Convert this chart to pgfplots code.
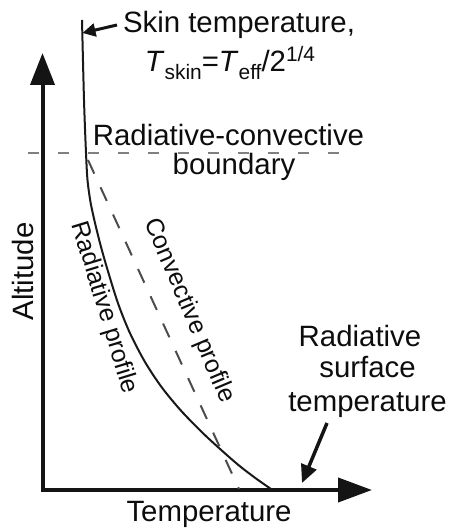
\documentclass[border=0pt]{standalone}
\usepackage{pgfplots}
\pgfplotsset{compat=1.18}
\usepackage{fontspec}
\setmainfont{Liberation Sans}
\usetikzlibrary{arrows.meta}
\newcommand{\fbig}{\fontsize{29.5}{30}\selectfont}
\newcommand{\fmid}{\fontsize{25}{26}\selectfont}
\newcommand{\fsm}{\fontsize{21}{21}\selectfont}
\begin{document}
\begin{tikzpicture}
\begin{axis}[x=1bp,y=1bp,xmin=0,xmax=453,ymin=0,ymax=532,hide axis,clip=false,scale only axis]
\path (axis cs:0,0) rectangle (axis cs:453,532);
% axes with arrows
\draw[line width=4bp, black!92, line join=miter,
  {Triangle[length=32bp,width=24bp]}-{Triangle[length=34bp,width=24bp]}]
  (axis cs:42.5,479) -- (axis cs:42.5,42) -- (axis cs:372,42);
% radiative-convective boundary
\addplot[line width=2.5bp, black!50, dash pattern=on 11bp off 19bp] coordinates {(28,379) (345,379)};
% radiative profile
\addplot[smooth, line width=2bp, black!90] coordinates {
(82,512) (84,432) (86,379) (87.5,352) (90.5,330) (95,309) (100.5,287) (106.7,265)
(117.9,229) (129.9,199) (145,170) (161.5,145) (180.4,122) (201.7,100) (221.2,82)
(238.4,67) (255.3,54) (271,43)};
% convective profile
\addplot[line width=2bp, black!70, dash pattern=on 15bp off 15bp] coordinates {(88,372) (239,43)};
% arrows
\draw[line width=3bp, black!92, -{Triangle[length=13bp,width=13bp]}] (axis cs:117,507) -- (axis cs:82.5,499);
\draw[line width=3.5bp, black!92, -{Triangle[length=18bp,width=16bp]}] (axis cs:327,109) -- (axis cs:302,49);
% texts
\node[anchor=base, inner sep=0pt, text=black!95] at (axis cs:239,499) {\fbig Skin temperature,};
\node[anchor=base, inner sep=0pt, text=black!95] at (axis cs:230,460) {\fbig \textit{T}\raisebox{-8bp}{\fsm skin}=\textit{T}\raisebox{-8bp}{\fsm eff}/2\raisebox{10bp}{\fsm 1/4}};
\node[anchor=base, inner sep=0pt, text=black!95] at (axis cs:228.5,386) {\fbig Radiative-convective};
\node[anchor=base, inner sep=0pt, text=black!95] at (axis cs:234,357) {\fbig boundary};
\node[anchor=base, inner sep=0pt, text=black!95] at (axis cs:360,185) {\fbig Radiative};
\node[anchor=base, inner sep=0pt, text=black!95] at (axis cs:367.5,154) {\fbig surface};
\node[anchor=base, inner sep=0pt, text=black!95] at (axis cs:367.5,120) {\fbig temperature};
\node[anchor=base, inner sep=0pt, text=black!95] at (axis cs:209,10) {\fbig Temperature};
\node[anchor=base, inner sep=0pt, rotate=90, text=black!95] at (axis cs:33,260.5) {\fbig Altitude};
\node[inner sep=0pt, rotate=-73, text=black!95] at (axis cs:104,224) {\fmid Radiative profile};
\node[inner sep=0pt, rotate=-67, text=black!95] at (axis cs:189,221) {\fmid Convective profile};
\end{axis}
\end{tikzpicture}
\end{document}
